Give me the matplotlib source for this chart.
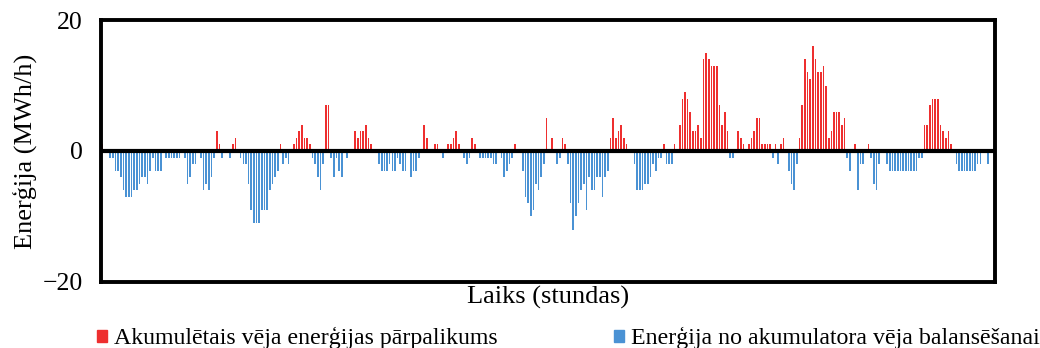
import numpy as np
import matplotlib.pyplot as plt
from matplotlib.patches import Patch

plt.rcParams['font.family'] = ['Liberation Serif', 'DejaVu Serif']

# hourly energy balance (MWh/h), 14 days x 24 hours
# positive = surplus stored, negative = drawn from the storage
balance = [
    1, 0, 0, -1, -1, -3, -3, -4, -6, -7, -7, -7, -6, -6, -5, -4, -4, -5, -3, -1, -3, -3, -3, 0,
    -1, -1, -1, -1, -1, -1, 0, -1, -5, -4, -2, -2, 0, -1, -6, -5, -6, -4, -1, 3, 1, -1, 0, 0,
    -1, 1, 2, 0, -1, -2, -2, -5, -9, -11, -11, -11, -9, -9, -9, -6, -5, -4, -3, 1, -2, -1, -2, 0,
    1, 2, 3, 4, 2, 2, 1, -1, -2, -4, -6, -2, 7, 7, -1, -4, -1, -3, -4, 0, -1, 0, 0, 3,
    2, 3, 3, 4, 2, 1, 0, 0, -2, -3, -3, -3, -2, -3, -3, -1, -2, -3, -3, 0, -4, -3, -3, -1,
    0, 4, 2, 0, 0, 1, 1, 0, -1, 0, 1, 1, 2, 3, 1, 0, -1, -2, -1, 2, 1, 0, -1, -1,
    -1, -1, -1, -2, -2, 0, -1, -4, -3, -2, -1, 1, 0, 0, -3, -7, -8, -10, -9, -5, -6, -4, -2, 5,
    0, 2, 0, -2, -1, 2, 1, -2, -8, -12, -10, -8, -6, -5, -9, -4, -6, -6, -4, -4, -7, -4, -3, 2,
    5, 2, 3, 4, 2, 1, 0, 0, -2, -6, -6, -6, -5, -5, -4, -2, -3, -1, -1, 1, -2, -2, -2, 1,
    0, 4, 8, 9, 8, 6, 3, 3, 4, 2, 14, 15, 14, 13, 13, 13, 7, 4, 6, 3, -1, -1, 0, 3,
    2, 1, 0, 1, 2, 3, 5, 5, 1, 1, 1, 1, -1, 1, -2, 1, 2, 0, -3, -5, -6, -2, 2, 7,
    14, 12, 11, 16, 14, 12, 12, 13, 10, 2, 3, 6, 6, 6, 4, 5, -1, -3, 0, 1, -6, -2, -2, 0,
    1, -1, -5, -6, -2, 0, 0, -2, -3, -3, -3, -3, -3, -3, -3, -3, -3, -3, -3, -1, -1, 4, 4, 7,
    8, 8, 8, 4, 3, 2, 3, 1, 0, -2, -3, -3, -3, -3, -3, -3, -3, -2, -2, 0, 0, -2, 0, 0,
]
label_surplus = 'Akumulētais vēja enerģijas pārpalikums'
label_discharge = 'Enerģija no akumulatora vēja balansēšanai'
yticks = [-20, 0, 20]

balance = np.array(balance)
hours = np.arange(len(balance))
surplus = np.where(balance > 0, balance, 0)
discharge = np.where(balance < 0, balance, 0)

red = '#EE2F2F'
blue = '#4A92D4'

fig = plt.figure(figsize=(10.4, 3.48), dpi=100)
ax = fig.add_axes([0.0971, 0.1897, 0.8596, 0.7528])

ax.bar(hours, surplus, width=0.62, color=red, linewidth=0)
ax.bar(hours, discharge, width=0.62, color=blue, linewidth=0)
ax.axhline(0, color='black', lw=3, zorder=3)

ax.set_xlim(-0.5, len(balance) - 0.5)
ax.set_ylim(-20, 20)
ax.set_xticks([])
ax.set_yticks(yticks)
ax.tick_params(axis='y', length=0, pad=13, labelsize=18.5)
for s in ax.spines.values():
    s.set_linewidth(2.8)
    s.set_color('black')

ax.set_ylabel('Enerģija (MWh/h)', fontsize=19, labelpad=4)
ax.set_xlabel('Laiks (stundas)', fontsize=19, labelpad=3)

handles = [Patch(color=red), Patch(color=blue)]
fig.legend(handles, [label_surplus, label_discharge], loc='lower left',
           bbox_to_anchor=(0.093, -0.004), ncol=2, frameon=False,
           borderpad=0, borderaxespad=0,
           fontsize=17.2, handlelength=0.43, handleheight=0.43,
           handletextpad=0.3, columnspacing=4.85)

fig.savefig('out.png', dpi=100)
